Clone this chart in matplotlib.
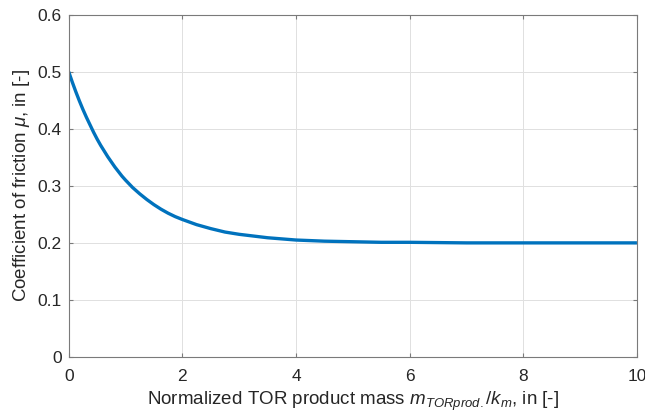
import matplotlib
matplotlib.use("Agg")
import matplotlib.pyplot as plt

plt.rcParams['font.family'] = ['Liberation Sans', 'DejaVu Sans']
plt.rcParams['mathtext.fontset'] = 'custom'
plt.rcParams['mathtext.rm'] = 'Liberation Sans'
plt.rcParams['mathtext.it'] = 'Liberation Sans:italic'

# Normalized TOR product mass and resulting coefficient of friction
mass_norm = [0.0, 0.0625, 0.125, 0.1875, 0.25, 0.3125, 0.375, 0.4375, 0.5, 0.5625, 0.625,
             0.6875, 0.75, 0.8125, 0.875, 0.9375, 1.0, 1.125, 1.25, 1.375, 1.5, 1.625,
             1.75, 1.875, 2.0, 2.25, 2.5, 2.75, 3.0, 3.25, 3.5, 3.75, 4.0, 4.5, 5.0,
             5.5, 6.0, 7.0, 8.0, 9.0, 10.0]
friction = [0.500, 0.482, 0.465, 0.449, 0.434, 0.420, 0.407, 0.394, 0.382, 0.371, 0.361,
            0.351, 0.342, 0.333, 0.325, 0.317, 0.310, 0.297, 0.286, 0.276, 0.267, 0.259,
            0.252, 0.246, 0.241, 0.232, 0.225, 0.219, 0.215, 0.212, 0.209, 0.207, 0.205,
            0.203, 0.202, 0.201, 0.201, 0.200, 0.200, 0.200, 0.200]

x_ticks = [0, 2, 4, 6, 8, 10]
y_ticks = [0, 0.1, 0.2, 0.3, 0.4, 0.5, 0.6]

fig = plt.figure(figsize=(6.45, 4.19), dpi=100)
ax = fig.add_axes([0.1065, 0.148, 0.881, 0.817])

ax.plot(mass_norm, friction, color='#0072BD', linewidth=2.4, solid_capstyle='butt',
        solid_joinstyle='round')

ax.set_xlim(0, 10)
ax.set_ylim(0, 0.6)
ax.set_xticks(x_ticks)
ax.set_yticks(y_ticks)
ax.set_xticklabels([str(t) for t in x_ticks])
ax.set_yticklabels(['0', '0.1', '0.2', '0.3', '0.4', '0.5', '0.6'])

ax.grid(True, color='#e0e0e0', linewidth=0.7)
ax.set_axisbelow(True)
for s in ax.spines.values():
    s.set_color('#7a7a7a')
    s.set_linewidth(0.8)
ax.tick_params(direction='in', length=3, width=0.8, color='#7a7a7a',
               labelsize=12.5, labelcolor='#262626', top=True, right=True)
ax.tick_params(axis='x', pad=9)
ax.tick_params(axis='y', pad=5)

ax.set_xlabel(r'Normalized TOR product mass $m_{TORprod.}/k_m$, in [-]',
              fontsize=13.5, color='#262626', labelpad=4)
ax.set_ylabel(r'Coefficient of friction $\mu$, in [-]',
              fontsize=13.5, color='#262626', labelpad=4)

fig.savefig('out.png', dpi=100)
